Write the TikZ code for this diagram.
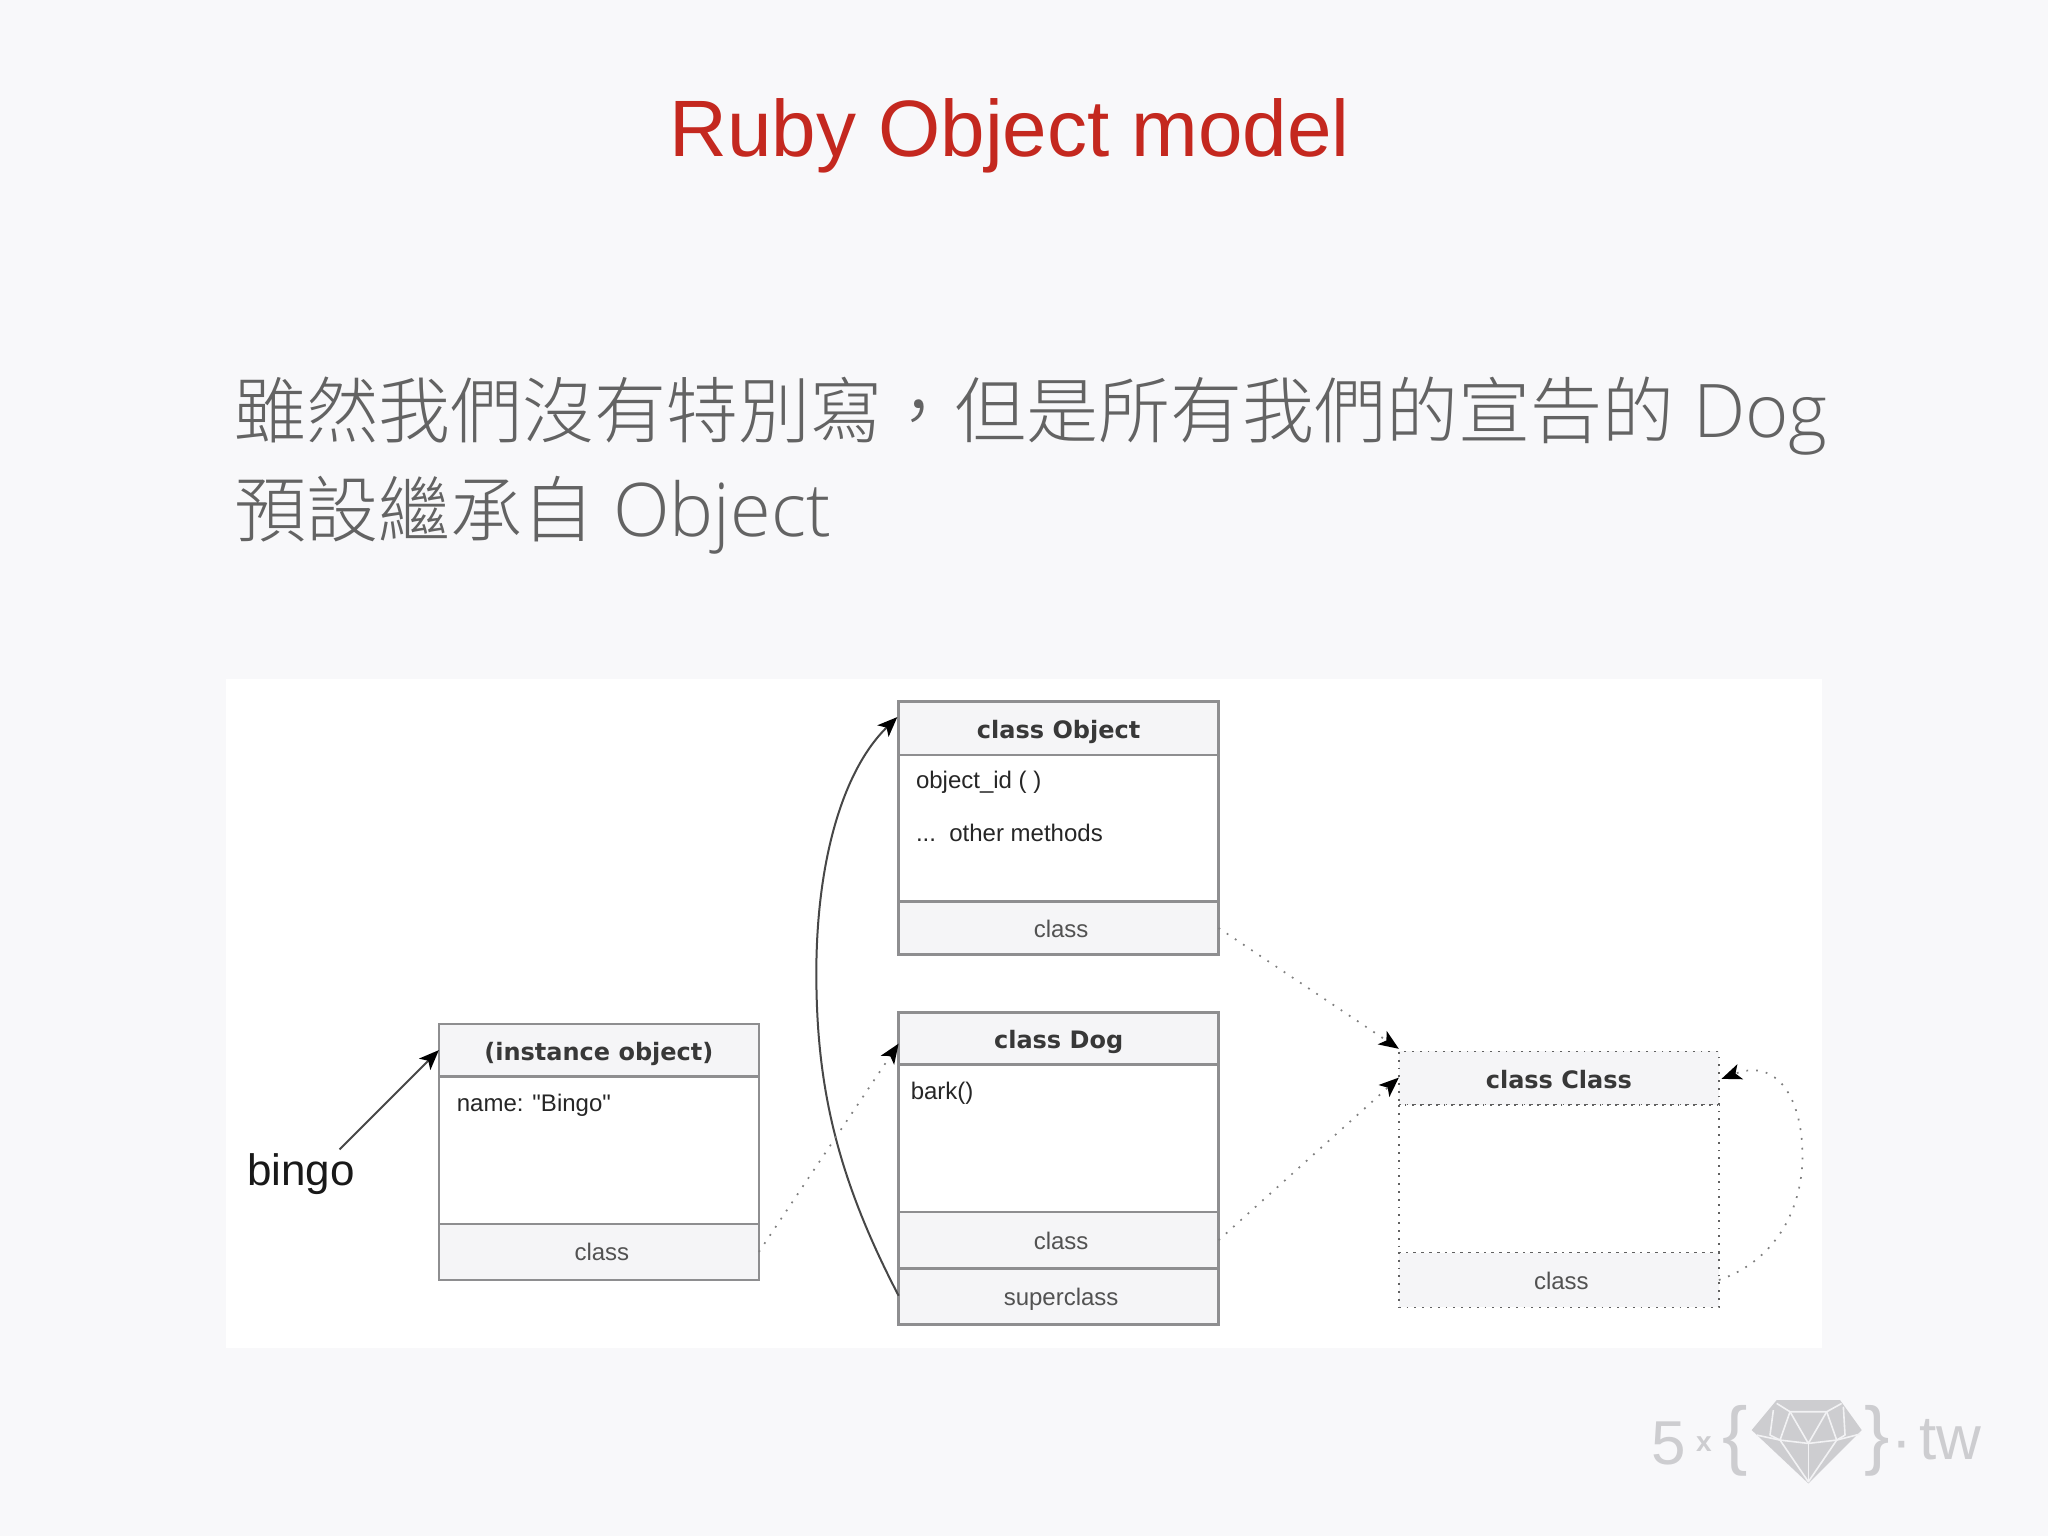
\documentclass[tikz,border=0pt]{standalone}
\usepackage{fontspec}
\setmainfont{Liberation Sans}
\newfontfamily\plainsans{Liberation Sans}
\newfontfamily\cjk{Noto Sans CJK TC}[UprightFont=* Light]
\newfontfamily\latlight{Open Sans}[UprightFont=* Light]
\newfontfamily\hdr{DejaVu Sans}
\usetikzlibrary{arrows.meta}
\definecolor{pagebg}{HTML}{F8F8FA}
\definecolor{hdrbg}{HTML}{F5F5F7}
\definecolor{boxline}{HTML}{8E8E90}
\definecolor{titlered}{HTML}{C4281F}
\definecolor{bodygray}{HTML}{636363}
\definecolor{logogray}{HTML}{CDCDD0}
\newcommand{\latword}[1]{\hspace{1.5pt}{\latlight\fontsize{37}{40}\selectfont #1}}
\tikzset{
  comp/.style={draw=boxline,line width=1.3pt,minimum width=160pt,minimum height=#1*0.65306pt,inner sep=0pt,outer sep=0pt,anchor=center},
  hd/.style={fill=hdrbg,text=black!78,text height=10.6pt,text depth=0pt,font=\hdr\bfseries\fontsize{12}{13}\selectfont},
  ft/.style={fill=hdrbg,text=black!68,text height=9pt,text depth=0pt,font=\fontsize{12}{14}\selectfont},
  bd/.style={fill=white},
  dot/.style={draw=black!62,line width=.9pt,dash pattern=on .9pt off 3pt},
  cbox/.style={dot},
  mem/.style={anchor=base west,inner sep=0pt,text=black!85,font=\fontsize{12}{14}\selectfont},
  tip/.style={-{Stealth[length=10pt,width=8pt,inset=2.5pt,black]}},
  conn/.style={tip,line width=.9pt,draw=black!72},
  dconn/.style={tip,line width=.85pt,draw=black!50,dash pattern=on .9pt off 4pt},
  logotxt/.style={inner sep=0pt,anchor=base,text=logogray},
  facet/.style={draw=pagebg!85!logogray,line width=.8pt,line join=round}
}
\begin{document}
\begin{tikzpicture}[x=0.65306pt,y=-0.65306pt]
\useasboundingbox (0,0) rectangle (1568,1176);
\fill[pagebg] (0,0) rectangle (1568,1176);
\fill[white] (173,520) rectangle (1395,1032);
\node[anchor=base,inner sep=0pt,text=titlered,font=\fontsize{40}{44}\selectfont] (title) at (773,120) {Ruby Object model};
\node[anchor=base west,inner sep=0pt,text=bodygray,font=\cjk\fontsize{36}{40}\selectfont] (line1) at (179,335) {雖然我們沒有特別寫，但是所有我們的宣告的 \latword{Dog}};
\node[anchor=base west,inner sep=0pt,text=bodygray,font=\cjk\fontsize{36}{40}\selectfont] (line2) at (179,411) {預設繼承自 \latword{Object}};
% class Object
\node[comp=41,hd] (oh) at (810.5,557.5) {class Object};
\node[comp=112,bd] (ob) at (810.5,634) {};
\node[comp=41,ft] (oc) at (810.5,710.5) {\hspace*{2.5pt}class};
\node[mem] (om1) at (701,604) {object\_id ( )};
\node[mem] (om2) at (701,644) {...\ \ other methods};
% class Dog
\node[comp=40,hd] (dh) at (810.5,795) {class Dog};
\node[comp=113,bd] (db) at (810.5,871.5) {};
\node[comp=43,ft] (dc) at (810.5,949.5) {\hspace*{2.5pt}class};
\node[comp=43,ft] (ds) at (810.5,992.5) {\hspace*{2.5pt}superclass};
\node[mem] (dm1) at (697,842) {bark()};
% instance
\node[comp=40,hd] (ih) at (458.5,804) {(instance object)};
\node[comp=113,bd] (ib) at (458.5,880.5) {};
\node[comp=43,ft] (ic) at (458.5,958.5) {\hspace*{3pt}class};
\node[mem] (im1) at (349.5,851) {\plainsans name: "Bingo"};
% class Class
\node[comp=41,hd,cbox] (ch) at (1193.5,825.5) {class Class};
\node[comp=113,fill=white,cbox] (cb) at (1193.5,902.5) {};
\node[comp=42,ft,cbox] (cc) at (1193.5,980) {\hspace*{2.5pt}class};
% bingo
\node[anchor=base west,inner sep=0pt,text=black!90,font=\fontsize{22}{24}\selectfont] (bingo) at (189,908) {bingo};
\coordinate (bingoOut) at (260,880);
\coordinate (iIn) at (336,804);
\coordinate (clsIn1) at (1071,803);
\coordinate (clsIn2) at (1071,825);
\coordinate (dIn) at (688,799);
\coordinate (oIn) at (687,549);
\coordinate (dsOut) at (688,992);
\coordinate (selfIn) at (1318,826);
% connectors
\draw[conn] (bingoOut) -- (iIn);
\draw[conn,line width=1pt] (dsOut) .. controls (640,900) and (625,830) .. (625,745) .. controls (625,660) and (645,590) .. (oIn);
\draw[dconn] (ic.east) -- (dIn);
\draw[dconn] (oc.east) -- (clsIn1);
\draw[dconn] (dc.east) -- (clsIn2);
\draw[dconn] (cc.east) .. controls (1360,965) and (1380,925) .. (1380,885) .. controls (1380,840) and (1360,810) .. (selfIn);
% logo
\begin{scope}[shift={(1225,1041.3)},x=0.16667pt,y=-0.16667pt]
\node[logotxt,font=\fontsize{31}{31}\selectfont] (l5) at (207,313) {5};
\node[logotxt,font=\fontsize{14}{14}\selectfont\bfseries] (lx) at (312,275) {x};
\node[logotxt,font=\fontsize{38}{38}\selectfont] (lo) at (405,302) {\{};
\node[logotxt,font=\fontsize{38}{38}\selectfont] (lc) at (832,302) {\}};
\node[logotxt,font=\fontsize{31}{31}\selectfont] (ld) at (905,305) {·};
\node[logotxt,font=\fontsize{31}{31}\selectfont] (ltw) at (1052,298) {tw};
\fill[logogray] (530,120) -- (720,120) -- (785,210) -- (625,370) -- (455,210) -- cycle;
\draw[facet] (470,225) -- (540,240) -- (625,250) -- (710,240) -- (780,222);
\draw[facet] (530,130) -- (570,155) -- (680,155) -- (725,130);
\draw[facet] (570,155) -- (540,240) -- (510,225) -- (520,150);
\draw[facet] (680,155) -- (710,240) -- (735,225) -- (730,140);
\draw[facet] (570,155) -- (625,250) -- (680,155);
\draw[facet] (540,240) -- (625,365) -- (710,240);
\draw[facet] (625,250) -- (625,365);
\end{scope}
\end{tikzpicture}
\end{document}
